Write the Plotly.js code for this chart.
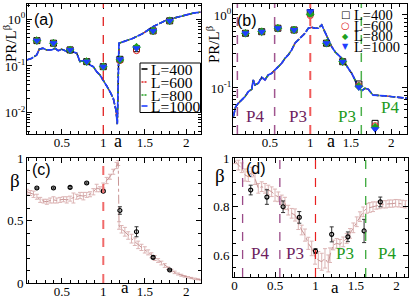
<!DOCTYPE html>
<html><head><meta charset="utf-8">
<script src="https://cdn.plot.ly/plotly-3.0.1.min.js"></script>
<style>html,body{margin:0;padding:0;background:#fff}#g{width:415px;height:299px}</style>
</head><body><div id="g"></div>
<script>
// ---------- data ----------
const sizes = ["L=400","L=600","L=800","L=1000"];
const lineColors = ["#000000","#e02020","#20a020","#1f3fff"];
const lineDash = ["5px,3px","6px,2px,2px,2px","6px,2px,2px,2px,2px,2px","7px,1.5px"];
const markerSym = ["square-open","circle-open","diamond","triangle-down"];

// panel (a): PR/L^beta curve vs a (all L overlap)
const aA = [0.08,0.137,0.198,0.229,0.273,0.318,0.378,0.418,0.458,0.499,0.539,0.599,0.639,0.680,0.719,0.759,0.800,0.840,0.880,0.920,0.960,1.0,1.041,1.081,1.120,1.153,1.169,1.189,1.241,1.361,1.482,1.602,1.764,1.924,2.084,2.177];
const aV = [0.135,0.146,0.172,0.229,0.240,0.221,0.221,0.240,0.213,0.229,0.213,0.193,0.200,0.188,0.124,0.130,0.124,0.105,0.0966,0.0754,0.064,0.050,0.0372,0.028,0.0202,0.0113,0.00566,0.308,0.333,0.394,0.505,0.70,0.975,1.15,1.36,1.43];

// panel (b)
const bA = [0.05,0.079,0.111,0.153,0.194,0.235,0.277,0.296,0.317,0.358,0.40,0.441,0.481,0.523,0.564,0.605,0.647,0.688,0.728,0.770,0.811,0.852,0.894,0.935,0.975,1.017,1.058,1.099,1.141,1.16,1.181,1.222,1.264,1.305,1.346,1.388,1.428,1.469,1.511,1.552,1.593,1.635,1.675,1.716,1.774,1.922,2.083,2.194];
const bV = [0.0405,0.0554,0.0617,0.0685,0.076,0.089,0.096,0.129,0.110,0.116,0.140,0.129,0.151,0.159,0.176,0.196,0.218,0.255,0.283,0.332,0.41,0.455,0.505,0.561,0.658,0.679,0.658,0.658,0.73,0.658,0.561,0.455,0.368,0.314,0.283,0.255,0.218,0.186,0.159,0.129,0.102,0.092,0.099,0.096,0.080,0.078,0.0746,0.0722];

// marker points (a) and (b)
const mA = [0.2,0.4,0.6,0.8,1.0,1.2,1.4,1.6,1.8];
const aPts = [
  [0.35,0.308,0.221,0.124,0.0966,0.139,0.235,0.566,0.93],
  [0.35,0.308,0.221,0.124,0.0966,0.13,0.213,0.56,0.93],
  [0.35,0.308,0.221,0.124,0.0966,0.135,0.253,0.566,0.93],
  [0.35,0.308,0.221,0.124,0.0966,0.139,0.24,0.566,0.93]
];
const bPts = [
  [0.561,0.59,0.658,0.623,1.08,0.41,0.229,0.1135,0.0328],
  [0.561,0.59,0.658,0.623,0.98,0.41,0.229,0.108,0.0305],
  [0.561,0.59,0.658,0.623,1.02,0.41,0.229,0.105,0.029],
  [0.561,0.59,0.658,0.623,1.12,0.41,0.229,0.102,0.0272]
];

// panel (c): beta with error bars
const cA = [0.08,0.12,0.16,0.20,0.24,0.28,0.32,0.36,0.40,0.44,0.48,0.52,0.56,0.60,0.64,0.68,0.72,0.76,0.80,0.84,0.88,0.92,0.96,1.00,1.04,1.08,1.12,1.16,1.18,1.19,1.22,1.26,1.30,1.34,1.38,1.42,1.46,1.50,1.54,1.58,1.62,1.66,1.70,1.74,1.78,1.82,1.86,1.90,1.94,1.98,2.02,2.06,2.10,2.14,2.18];
const cB = [0.73,0.72,0.71,0.69,0.665,0.655,0.65,0.66,0.665,0.66,0.665,0.67,0.665,0.675,0.68,0.69,0.70,0.695,0.705,0.71,0.73,0.76,0.75,0.78,0.82,0.85,0.89,0.94,0.96,0.46,0.43,0.41,0.38,0.355,0.33,0.305,0.285,0.265,0.245,0.222,0.20,0.18,0.16,0.14,0.118,0.10,0.085,0.072,0.062,0.053,0.046,0.040,0.034,0.029,0.025];
const cE = [0.02,0.02,0.025,0.02,0.02,0.015,0.02,0.02,0.025,0.02,0.02,0.02,0.025,0.02,0.04,0.02,0.025,0.03,0.02,0.02,0.025,0.03,0.02,0.02,0.025,0.02,0.02,0.025,0.02,0.03,0.03,0.035,0.03,0.035,0.03,0.03,0.025,0.025,0.02,0.02,0.02,0.015,0.015,0.015,0.01,0.01,0.01,0.008,0.008,0.006,0.006,0.005,0.005,0.004,0.004];
const cM = [0.76,0.76,0.765,0.80,0.735,0.58,0.41,0.205,0.104];
const cME = [0.008,0.008,0.008,0.008,0.01,0.03,0.04,0.01,0.006];

// panel (d)
const dA = [0.0,0.047,0.089,0.13,0.17,0.212,0.253,0.294,0.336,0.377,0.417,0.459,0.50,0.541,0.583,0.623,0.664,0.706,0.747,0.788,0.83,0.87,0.911,0.953,0.994,1.035,1.077,1.117,1.158,1.179,1.22,1.262,1.302,1.343,1.385,1.426,1.467,1.509,1.549,1.59,1.632,1.67,1.71,1.75,1.79,1.83,1.87,1.91,1.95,1.99,2.03,2.07,2.11];
const dB = [0.993,0.972,0.961,0.931,0.924,0.943,0.917,0.876,0.883,0.876,0.869,0.862,0.848,0.841,0.828,0.814,0.786,0.773,0.766,0.731,0.704,0.683,0.649,0.628,0.593,0.58,0.573,0.587,0.566,0.60,0.642,0.649,0.645,0.655,0.669,0.69,0.713,0.738,0.759,0.779,0.793,0.797,0.80,0.805,0.807,0.81,0.81,0.813,0.813,0.815,0.814,0.812,0.81];
const dE = [0.015,0.02,0.02,0.025,0.02,0.02,0.025,0.02,0.02,0.02,0.02,0.02,0.025,0.02,0.02,0.025,0.02,0.02,0.025,0.025,0.02,0.025,0.025,0.03,0.03,0.035,0.035,0.04,0.035,0.03,0.02,0.02,0.02,0.02,0.02,0.02,0.02,0.02,0.02,0.02,0.02,0.02,0.02,0.015,0.015,0.015,0.015,0.015,0.015,0.015,0.015,0.015,0.015];
const dM = [0.869,0.84,0.80,0.756,0.617,0.686,0.676,0.70,0.82];
const dME = [0.02,0.03,0.024,0.024,0.01,0.031,0.02,0.048,0.02];

// phase boundaries
const critA = 1.0;
const purpleB = [0.1,0.56];
const greenB = 1.63;
const greenD = 1.62;

// ---------- build ----------
const W=415,H=299;
const fx=p=>p/W, fy=p=>1-p/H;
const serif="Liberation Serif";
const errCol="#dcb4b4";

const traces=[];
for(let i=0;i<4;i++){
  traces.push({x:aA,y:aV,xaxis:'x',yaxis:'y',mode:'lines',showlegend:false,
    line:{color:lineColors[i],width:i==3?1.7:1.4,dash:lineDash[i]}});
}
for(let i=0;i<4;i++){
  traces.push({x:bA,y:bV,xaxis:'x2',yaxis:'y2',mode:'lines',showlegend:false,
    line:{color:lineColors[i],width:i==3?1.7:1.4,dash:lineDash[i]}});
}
for(let i=0;i<4;i++){
  const mk={symbol:markerSym[i],size:6,color:lineColors[i],line:{color:lineColors[i],width:1}};
  traces.push({x:mA,y:aPts[i],xaxis:'x',yaxis:'y',mode:'markers',showlegend:false,marker:mk});
  traces.push({x:mA,y:bPts[i],xaxis:'x2',yaxis:'y2',mode:'markers',showlegend:false,marker:mk});
}
traces.push({x:cA,y:cB,xaxis:'x3',yaxis:'y3',mode:'lines',showlegend:false,
  line:{color:"#c89595",width:1,dash:'dashdot'},
  error_y:{type:'data',array:cE,visible:true,color:errCol,thickness:1,width:2}});
traces.push({x:mA,y:cM,xaxis:'x3',yaxis:'y3',mode:'markers',showlegend:false,
  marker:{symbol:'circle-open',size:4,color:'#000',line:{width:1.2,color:'#000'}},
  error_y:{type:'data',array:cME,visible:true,color:'#333',thickness:1,width:2}});
traces.push({x:dA,y:dB,xaxis:'x4',yaxis:'y4',mode:'lines',showlegend:false,
  line:{color:"#c89595",width:1,dash:'dashdot'},
  error_y:{type:'data',array:dE,visible:true,color:errCol,thickness:1,width:2}});
traces.push({x:mA,y:dM,xaxis:'x4',yaxis:'y4',mode:'markers',showlegend:false,
  marker:{symbol:'circle-open',size:4,color:'#000',line:{width:1.2,color:'#000'}},
  error_y:{type:'data',array:dME,visible:true,color:'#333',thickness:1,width:2}});

function logMinor(lo,hi){const v=[];for(let e=lo;e<=hi;e++){for(let m=2;m<=9;m++)v.push(m*Math.pow(10,e));}return v;}
const base={showline:true,linecolor:'#000',linewidth:1,mirror:'allticks',ticks:'inside',ticklen:5,
  tickcolor:'#000',showgrid:false,zeroline:false,tickfont:{family:serif,size:13,color:'#000'}};
function ax(o){return Object.assign({},base,o);}

const xTicks={tickvals:[0.5,1,1.5,2],ticktext:['0.5','1','1.5','2'],tickmode:'array',ticklabelstandoff:-4,
  minor:{dtick:0.1,tick0:0,ticklen:3,ticks:'inside',tickcolor:'#000'}};

const layout={
  width:W,height:H,margin:{l:0,r:0,t:0,b:0},paper_bgcolor:'#fff',plot_bgcolor:'#fff',showlegend:false,
  xaxis:ax(Object.assign({domain:[fx(27),fx(200.5)],range:[0.081,2.171],anchor:'y'},xTicks)),
  yaxis:ax({domain:[fy(134),fy(4)],type:'log',range:[-2.46,0.33],anchor:'x',tickmode:'array',
    tickvals:[0.01,0.1,1],ticktext:['10<sup>-2</sup>','10<sup>-1</sup>','10<sup>0</sup>'],ticklabelstandoff:-2,
    minor:{tickmode:'array',tickvals:logMinor(-3,0),ticklen:3,ticks:'inside',tickcolor:'#000'}}),
  xaxis2:ax(Object.assign({domain:[fx(233),fx(407)],range:[0.046,2.194],anchor:'y2'},xTicks)),
  yaxis2:ax({domain:[fy(134),fy(4)],type:'log',range:[-1.63,0.15],anchor:'x2',tickmode:'array',
    tickvals:[0.1,1],ticktext:['10<sup>-1</sup>','10<sup>0</sup>'],ticklabelstandoff:-2,
    minor:{tickmode:'array',tickvals:logMinor(-2,0),ticklen:3,ticks:'inside',tickcolor:'#000'}}),
  xaxis3:ax(Object.assign({domain:[fx(27),fx(200.5)],range:[0.081,2.171],anchor:'y3'},xTicks)),
  yaxis3:ax({domain:[fy(283),fy(158)],range:[0,1],anchor:'x3',tickmode:'array',tickvals:[0,0.5,1],ticktext:['0','0.5','1'],
    minor:{dtick:0.1,tick0:0,ticklen:3,ticks:'inside',tickcolor:'#000'}}),
  xaxis4:ax({domain:[fx(233),fx(407.5)],range:[-0.0185,2.136],anchor:'y4',tickmode:'array',ticklabelstandoff:-4,
    tickvals:[0,0.5,1,1.5,2],ticktext:['0','0.5','1','1.5','2'],
    minor:{dtick:0.1,tick0:0,ticklen:3,ticks:'inside',tickcolor:'#000'}}),
  yaxis4:ax({domain:[fy(277),fy(158.3)],range:[0.51,1.0],anchor:'x4',tickmode:'array',tickvals:[0.6,0.8,1],ticktext:['0.6','0.8','1'],
    minor:{dtick:0.05,tick0:0,ticklen:3,ticks:'inside',tickcolor:'#000'}}),
  shapes:[],annotations:[]
};

function vline(xr,yr,x,color,width){
  layout.shapes.push({type:'line',xref:xr,yref:yr+' domain',x0:x,x1:x,y0:0,y1:1,line:{color:color,width:width,dash:'dash'}});
}
vline('x','y',critA,'#e02020',1.3);
vline('x2','y2',critA,'#f05a5a',2);
purpleB.forEach(v=>vline('x2','y2',v,'#a0558f',1.5));
vline('x2','y2',greenB,'#4cb04c',1.5);
vline('x3','y3',critA,'#f06a6a',2);
vline('x4','y4',critA,'#e82020',1.2);
purpleB.forEach(v=>vline('x4','y4',v,'#9a4a88',1.3));
vline('x4','y4',greenD,'#3aa83a',1.3);

function ann(text,x,y,opt){
  layout.annotations.push(Object.assign({text:text,xref:'paper',yref:'paper',x:fx(x),y:fy(y),showarrow:false,
    xanchor:'center',yanchor:'middle',font:{family:serif,size:16,color:'#000'}},opt||{}));
}
// panel letters
const sansF={family:'Liberation Sans',size:16,color:'#000'};
ann('(a)',44,20,{font:sansF});
ann('(b)',247,21,{font:sansF});
ann('(c)',41,169,{font:sansF});
ann('(d)',256,168,{font:sansF});
// axis titles
ann('PR/L<sup>β</sup>',10,44,{textangle:-90,font:{family:serif,size:15,color:'#000'}});
ann('PR/L<sup>β</sup>',213,44,{textangle:-90,font:{family:serif,size:15,color:'#000'}});
ann('β',15,180,{font:{family:serif,size:19,color:'#000'}});
ann('β',220,175,{font:{family:serif,size:19,color:'#000'}});
ann('a',118,141,{font:{family:serif,size:18,color:'#000'}});
ann('a',331,141,{font:{family:serif,size:18,color:'#000'}});
ann('a',125,299,{yanchor:'bottom',font:{family:serif,size:17,color:'#000'}});
ann('a',335,298.5,{yanchor:'bottom',font:{family:serif,size:17,color:'#000'}});
// phase labels
const purpleT='#6e1f5e', greenT='#1c9a1c';
ann('P4',255,117,{font:{family:serif,size:17,color:purpleT}});
ann('P3',298,117,{font:{family:serif,size:17,color:purpleT}});
ann('P3',347,117,{font:{family:serif,size:17,color:greenT}});
ann('P4',390,107,{font:{family:serif,size:17,color:greenT}});
ann('P4',260,253,{font:{family:serif,size:17,color:purpleT}});
ann('P3',295,253,{font:{family:serif,size:17,color:purpleT}});
ann('P3',345,253,{font:{family:serif,size:17,color:greenT}});
ann('P4',387,253,{font:{family:serif,size:17,color:greenT}});

// legend (a): boxed, line samples
layout.shapes.push({type:'rect',xref:'paper',yref:'paper',x0:fx(140),x1:fx(200.5),y0:fy(112.5),y1:fy(63),
  line:{color:'#000',width:1},fillcolor:'#fff',layer:'above'});
const legRowsA=[69,82,95,106];
const legDashA=['solid','2px,1px','2px,1px','solid'];
for(let i=0;i<4;i++){
  layout.shapes.push({type:'line',xref:'paper',yref:'paper',x0:fx(141.5),x1:fx(147.5),y0:fy(legRowsA[i]),y1:fy(legRowsA[i]),
    line:{color:lineColors[i],width:1.6,dash:legDashA[i]},layer:'above'});
  ann(sizes[i],148.5,legRowsA[i],{xanchor:'left',font:{family:serif,size:15.5,color:'#000'}});
}
// legend (b): marker glyphs
const legRowsB=[15,25.7,36,46.7];
const glyphs=['□','○','◆','▼'];
const gsz=[10,10,8,8];
for(let i=0;i<4;i++){
  ann(glyphs[i],345.5,legRowsB[i],{font:{family:'DejaVu Sans',size:gsz[i],color:lineColors[i]}});
  ann(sizes[i],351.5,legRowsB[i],{xanchor:'left',font:{family:serif,size:14.5,color:'#000'}});
}

Plotly.newPlot('g',traces,layout,{staticPlot:true,displayModeBar:false});
</script></body></html>
